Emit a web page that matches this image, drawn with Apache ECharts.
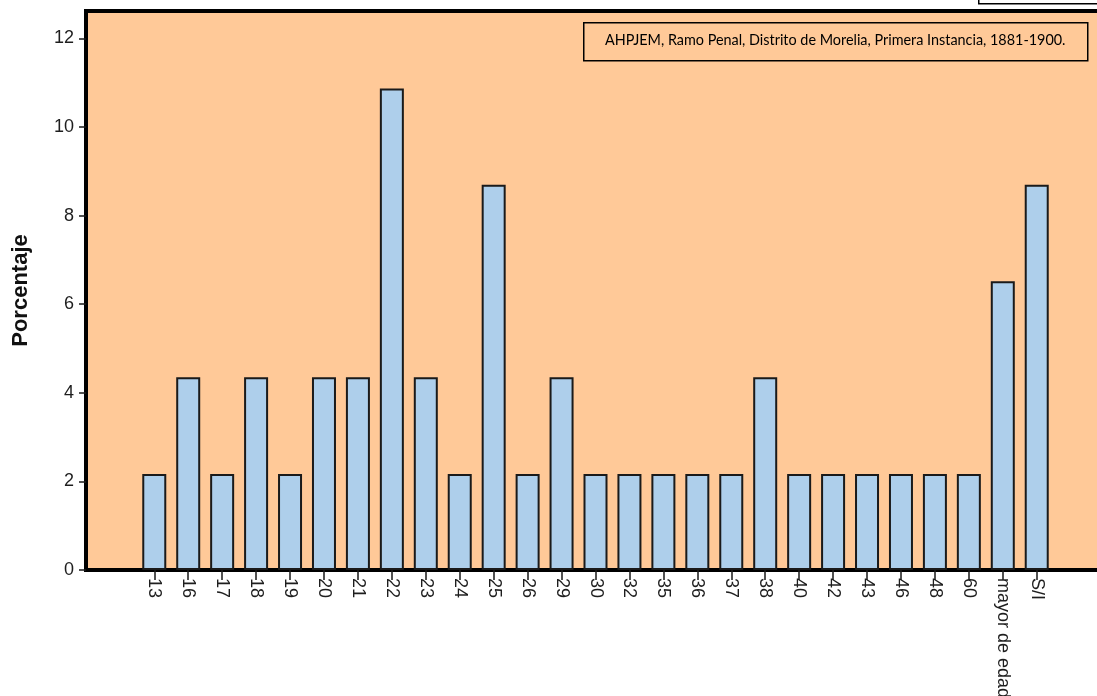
<!DOCTYPE html>
<html>
<head>
<meta charset="utf-8">
<style>
  html, body { margin: 0; padding: 0; background: #ffffff; }
  #chart { width: 1097px; height: 696px; }
</style>
<script src="https://cdn.jsdelivr.net/npm/echarts@6/dist/echarts.min.js"></script>
</head>
<body>
<div id="chart"></div>
<script>
// Age groups of the accused (edad) and their share of cases, in percent
const categories = ['13', '16', '17', '18', '19', '20', '21', '22', '23', '24', '25', '26', '29',
  '30', '32', '35', '36', '37', '38', '40', '42', '43', '46', '48', '60', 'mayor de edad', 'S/I'];
const porcentaje = [2.17, 4.35, 2.17, 4.35, 2.17, 4.35, 4.35, 10.87, 4.35, 2.17, 8.70, 2.17, 4.35,
  2.17, 2.17, 2.17, 2.17, 2.17, 4.35, 2.17, 2.17, 2.17, 2.17, 2.17, 2.17, 6.52, 8.70];
const yTicks = [0, 2, 4, 6, 8, 10, 12];
const yMax = 12.62;
const fuente = 'AHPJEM, Ramo Penal, Distrito de Morelia, Primera Instancia, 1881-1900.';

const chart = echarts.init(document.getElementById('chart'), null, { renderer: 'canvas' });

const axisFont = 'Liberation Sans, Arial, sans-serif';

chart.setOption({
  backgroundColor: '#ffffff',
  animation: false,
  grid: [
    // frame with the peach plot background and the value axis
    { left: 86, right: -30, top: 11, bottom: 126, show: true, outerBoundsMode: 'none',
      containLabel: false,
      backgroundColor: '#FFC998', borderColor: '#000000', borderWidth: 4 },
    // inner band holding the bars
    { left: 137.3, right: 43.3, top: 11, bottom: 126, outerBoundsMode: 'none',
      containLabel: false }
  ],
  xAxis: [
    { type: 'value', gridIndex: 0, show: false, min: 0, max: 1 },
    {
      type: 'category', gridIndex: 1, data: categories,
      axisLine: { show: false },
      axisTick: { show: true, alignWithLabel: true, length: 10,
        lineStyle: { color: '#1a1a1a', width: 1.5 } },
      axisLabel: { rotate: -90, margin: 8, interval: 0, color: '#1e1e1e',
        fontFamily: axisFont, fontSize: 18 }
    }
  ],
  yAxis: [
    {
      type: 'value', gridIndex: 0, min: 0, max: yMax,
      name: 'Porcentaje', nameLocation: 'middle', nameGap: 54, nameRotate: 90,
      nameTextStyle: { fontFamily: axisFont, fontWeight: 'bold', fontSize: 22, color: '#111111' },
      splitLine: { show: false },
      axisLine: { show: false },
      axisTick: { show: true, length: 7, customValues: yTicks,
        lineStyle: { color: '#1a1a1a', width: 1.5 } },
      axisLabel: { customValues: yTicks, margin: 12, color: '#1e1e1e',
        fontFamily: axisFont, fontSize: 18 }
    },
    { type: 'value', gridIndex: 1, min: 0, max: yMax, show: false }
  ],
  series: [
    {
      type: 'bar', xAxisIndex: 1, yAxisIndex: 1, data: porcentaje,
      barWidth: 24,
      itemStyle: { color: '#AECFEB', borderColor: '#1a1a1a', borderWidth: 2 }
    }
  ],
  graphic: [
    // source note box
    { type: 'rect', left: 583, top: 22, shape: { width: 504, height: 38 },
      style: { fill: 'transparent', stroke: '#000000', lineWidth: 1.5 }, z: 10 },
    { type: 'text', left: 605, top: 33,
      style: { text: fuente, fill: '#000000', font: '14.4px Lato, "Open Sans", sans-serif' }, z: 11 },
    // legend frame at the top right corner
    { type: 'rect', left: 978, top: -20, shape: { width: 140, height: 23 },
      style: { fill: '#ffffff', stroke: '#000000', lineWidth: 1.5 }, z: 10 }
  ]
});
</script>
</body>
</html>
